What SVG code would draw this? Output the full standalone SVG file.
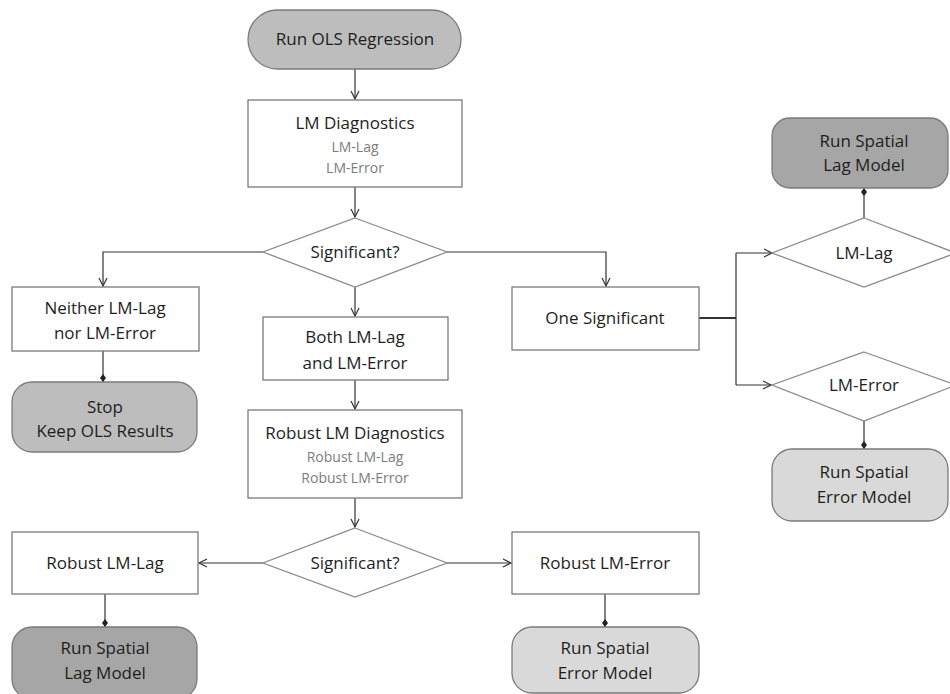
<svg xmlns="http://www.w3.org/2000/svg" width="950" height="694" viewBox="0 0 950 694">
<defs>
<marker id="arr" markerWidth="12" markerHeight="12" refX="9" refY="5" orient="auto" markerUnits="userSpaceOnUse">
<path d="M1,1 L9,5 L1,9" fill="none" stroke="#333" stroke-width="1.2"/>
</marker>
<marker id="dia" markerWidth="10" markerHeight="10" refX="8" refY="4" orient="auto" markerUnits="userSpaceOnUse">
<path d="M0,4 L4,1 L8,4 L4,7 Z" fill="#222"/>
</marker>
<style>
.box{fill:#fff;stroke:#7a7a7a;stroke-width:1.3}
.dk{fill:#a6a6a6;stroke:#7a7a7a;stroke-width:1.3}
.md{fill:#bdbdbd;stroke:#7a7a7a;stroke-width:1.3}
.lt{fill:#d9d9d9;stroke:#7a7a7a;stroke-width:1.3}
.dm{fill:#fff;stroke:#8a8a8a;stroke-width:1.3}
text{font-family:"Open Sans","Noto Sans","Liberation Sans",sans-serif;font-size:17px;fill:#1e1e1e;text-anchor:middle}
.sub{font-size:14px;fill:#7c7c7c}
.c{fill:none;stroke:#333;stroke-width:1.2}
</style>
</defs>
<g id="connectors">
<line class="c" x1="355" y1="69" x2="355" y2="99" marker-end="url(#arr)"/>
<line class="c" x1="355" y1="187" x2="355" y2="217" marker-end="url(#arr)"/>
<polyline class="c" points="263,252 103,252 103,286" marker-end="url(#arr)"/>
<line class="c" x1="355" y1="287" x2="355" y2="316" marker-end="url(#arr)"/>
<polyline class="c" points="447,252 606,252 606,286" marker-end="url(#arr)"/>
<line class="c" x1="103" y1="351" x2="103" y2="382" marker-end="url(#dia)"/>
<line class="c" x1="355" y1="380" x2="355" y2="409" marker-end="url(#arr)"/>
<line class="c" x1="355" y1="498" x2="355" y2="527" marker-end="url(#arr)"/>
<line class="c" x1="263" y1="563" x2="199" y2="563" marker-end="url(#arr)"/>
<line class="c" x1="447" y1="563" x2="511" y2="563" marker-end="url(#arr)"/>
<line class="c" x1="105" y1="594" x2="105" y2="627" marker-end="url(#dia)"/>
<line class="c" x1="605" y1="594" x2="605" y2="627" marker-end="url(#dia)"/>
<line x1="699" y1="318" x2="736" y2="318" stroke="#333" stroke-width="2"/>
<line class="c" x1="736" y1="253" x2="736" y2="385"/>
<line class="c" x1="736" y1="253" x2="772" y2="253" marker-end="url(#arr)"/>
<line class="c" x1="736" y1="385" x2="771" y2="385" marker-end="url(#arr)"/>
<line class="c" x1="864" y1="218" x2="864" y2="188" marker-end="url(#dia)"/>
<line class="c" x1="864" y1="421" x2="864" y2="449" marker-end="url(#dia)"/>
</g>
<g id="n_ols"><rect class="md" x="248" y="10" width="213" height="59" rx="29.5"/><text x="355" y="45">Run OLS Regression</text></g>
<g id="n_lmdiag"><rect class="box" x="248" y="100" width="214" height="87"/><text x="355" y="129">LM Diagnostics</text><text class="sub" x="355" y="152">LM-Lag</text><text class="sub" x="355" y="173">LM-Error</text></g>
<g id="n_sig1"><polygon class="dm" points="355,218 447,252 355,287 263,252"/><text x="355" y="258">Significant?</text></g>
<g id="n_neither"><rect class="box" x="12" y="287" width="187" height="64"/><text x="105" y="314">Neither LM-Lag</text><text x="105" y="339">nor LM-Error</text></g>
<g id="n_stop"><rect class="md" x="12" y="382" width="185" height="70" rx="20"/><text x="105" y="413">Stop</text><text x="105" y="437">Keep OLS Results</text></g>
<g id="n_both"><rect class="box" x="263" y="317" width="185" height="63"/><text x="355" y="343">Both LM-Lag</text><text x="355" y="369">and LM-Error</text></g>
<g id="n_robust"><rect class="box" x="248" y="410" width="214" height="88"/><text x="355" y="439">Robust LM Diagnostics</text><text class="sub" x="355" y="462">Robust LM-Lag</text><text class="sub" x="355" y="483">Robust LM-Error</text></g>
<g id="n_sig2"><polygon class="dm" points="355,528 447,563 355,597 263,563"/><text x="355" y="569">Significant?</text></g>
<g id="n_rlag"><rect class="box" x="12" y="532" width="186" height="62"/><text x="105" y="569">Robust LM-Lag</text></g>
<g id="n_rerr"><rect class="box" x="512" y="532" width="187" height="62"/><text x="605" y="569">Robust LM-Error</text></g>
<g id="n_lagbot"><rect class="dk" x="12" y="627" width="185" height="72" rx="20"/><text x="105" y="654">Run Spatial</text><text x="105" y="679">Lag Model</text></g>
<g id="n_errbot"><rect class="lt" x="512" y="627" width="187" height="66" rx="20"/><text x="605" y="654">Run Spatial</text><text x="605" y="679">Error Model</text></g>
<g id="n_one"><rect class="box" x="512" y="287" width="187" height="63"/><text x="605" y="324">One Significant</text></g>
<g id="n_laptop"><rect class="dk" x="772" y="118" width="176" height="70" rx="18"/><text x="864" y="147">Run Spatial</text><text x="864" y="171">Lag Model</text></g>
<g id="n_lmlag"><polygon class="dm" points="864,218 956,253 864,287 772,253"/><text x="864" y="259">LM-Lag</text></g>
<g id="n_lmerr"><polygon class="dm" points="864,352 956,385 864,421 772,385"/><text x="864" y="391">LM-Error</text></g>
<g id="n_errtop"><rect class="lt" x="772" y="449" width="176" height="72" rx="20"/><text x="864" y="478">Run Spatial</text><text x="864" y="503">Error Model</text></g>
</svg>
